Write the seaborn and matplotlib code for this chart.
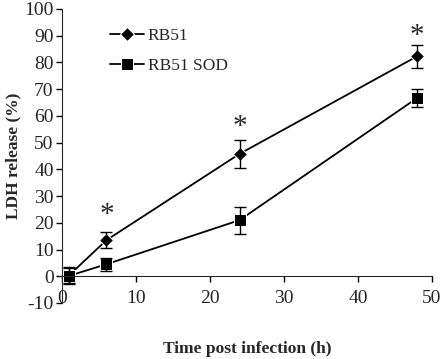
import matplotlib
matplotlib.use("Agg")
import matplotlib.pyplot as plt
import seaborn as sns
import pandas as pd

time_h = [1, 6, 24, 48]
rb51 = [0.5, 13.5, 45.8, 82.3]
rb51_err = [3.0, 3.0, 5.2, 4.3]
sod = [0.2, 4.5, 21.0, 66.7]
sod_err = [3.0, 2.5, 5.1, 3.2]
star_x = [6, 24, 48]
star_y = [23.0, 56.0, 90.0]
x_ticks = [0, 10, 20, 30, 40, 50]
y_ticks = [-10, 0, 10, 20, 30, 40, 50, 60, 70, 80, 90, 100]

sns.set_style("ticks")
plt.rcParams['font.family'] = ['Liberation Serif', 'DejaVu Serif']
plt.rcParams['axes.unicode_minus'] = False

df = pd.DataFrame({
    "time": time_h * 2,
    "ldh": rb51 + sod,
    "strain": ["RB51"] * 4 + ["RB51 SOD"] * 4,
})

fig = plt.figure(figsize=(4.43, 3.59), dpi=100)
ax = fig.add_axes([0.14, 0.156, 0.835, 0.819])

sns.lineplot(data=df, x="time", y="ldh", hue="strain", style="strain",
             markers={"RB51": "D", "RB51 SOD": "s"}, dashes=False,
             palette={"RB51": "black", "RB51 SOD": "black"},
             markersize=7, linewidth=1.3, ax=ax)
for line in ax.lines:
    if line.get_marker() == "D":
        line.set_markersize(7)
    elif line.get_marker() == "s":
        line.set_markersize(9)

ax.errorbar(time_h, rb51, yerr=rb51_err, fmt="none", ecolor="black",
            elinewidth=1, capsize=4, capthick=1)
ax.errorbar(time_h, sod, yerr=sod_err, fmt="none", ecolor="black",
            elinewidth=1, capsize=4, capthick=1)

for sx, sy in zip(star_x, star_y):
    ax.text(sx, sy, "*", ha="center", va="center", fontsize=21)

ax.set_xlim(0, 50)
ax.set_ylim(-10, 100)
ax.set_xticks(x_ticks)
ax.set_yticks(y_ticks)
ax.spines['bottom'].set_position(('data', 0))
ax.spines['top'].set_visible(False)
ax.spines['right'].set_visible(False)
ax.tick_params(axis='both', labelsize=14, length=4, width=1, color='black',
               direction='out')
ax.tick_params(axis='x', pad=6)
ax.tick_params(axis='y', pad=2)
ax.set_xlabel("Time post infection (h)", fontsize=12.5, fontweight="bold")
ax.set_ylabel("LDH release (%)", fontsize=12.5, fontweight="bold")
ax.xaxis.set_label_coords(0.5, -0.13)
ax.yaxis.set_label_coords(-0.11, 0.5)

leg = ax.legend(loc="upper left", bbox_to_anchor=(0.11, 0.958), frameon=False,
                fontsize=12.5, handlelength=2.0, labelspacing=0.75,
                handletextpad=0.2, borderaxespad=0)
for h in leg.legend_handles:
    h.set_color("black")

fig.savefig("out.png", dpi=100)
